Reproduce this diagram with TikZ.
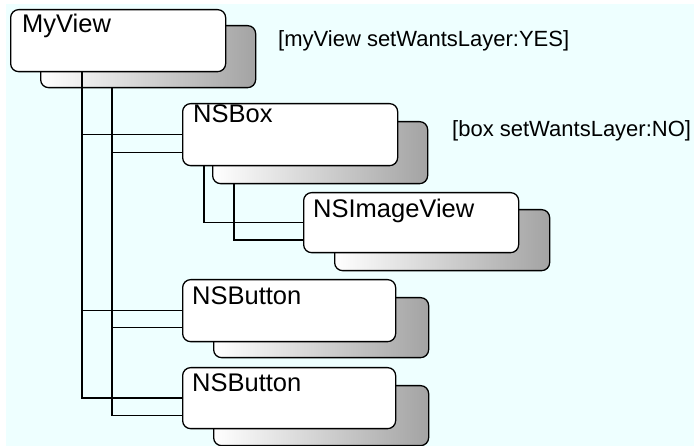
\documentclass[tikz,border=0pt]{standalone}
\usepackage{fontspec}
\setmainfont{Liberation Sans}
\definecolor{paper}{RGB}{238,255,255}
\tikzset{
  front/.style={draw=black, line width=1.3pt, fill=white, rounded corners=8pt,
    anchor=north west, inner sep=0pt, minimum width=215pt, minimum height=62pt},
  layer/.style={draw=black, line width=1.3pt, rounded corners=8pt,
    left color=white, right color=black!36,
    anchor=north west, inner sep=0pt, minimum width=215pt, minimum height=62pt},
  title/.style={anchor=base west, inner sep=0pt, font=\fontsize{25.5}{28}\selectfont},
  note/.style={anchor=base west, inner sep=0pt, font=\fontsize{22}{25}\selectfont},
  link/.style={draw=black, line width=1.3pt}
}
\begin{document}
\begin{tikzpicture}[x=1pt, y=-1pt]
  \useasboundingbox (0,0) rectangle (694,446);
  \fill[paper] (6,4) rectangle (694,446);

  % layer (backing) boxes
  \node[layer] (myview-l) at (40,25) {};
  \node[layer] (nsbox-l) at (212,121) {};
  \node[layer, minimum height=61pt] (image-l) at (334,209) {};
  \node[layer, minimum height=60pt] (btn1-l) at (213,297) {};
  \node[layer, minimum height=60pt] (btn2-l) at (213,385) {};

  % view boxes
  \node[front] (myview) at (10,9) {};
  \node[front] (nsbox) at (182,103) {};
  \node[front, minimum height=60pt] (image) at (303,192) {};
  \node[front, minimum width=213pt] (btn1) at (182,279) {};
  \node[front, minimum width=213pt, minimum height=61pt] (btn2) at (182,367) {};

  % titles
  \node[title] (myview-t) at (22,33) {MyView};
  \node[title] (nsbox-t) at (193,123) {NSBox};
  \node[title] (image-t) at (313,218) {NSImageView};
  \node[title] (btn1-t) at (192,305) {NSButton};
  \node[title] (btn2-t) at (192,392) {NSButton};

  % notes
  \node[note] (note-yes) at (278,47) {[myView setWantsLayer:YES]};
  \node[note] (note-no) at (452,137) {[box setWantsLayer:NO]};

  % view hierarchy links
  \draw[link] ([xshift=72pt]myview.south west) |- (nsbox.west);
  \draw[link] ([xshift=72pt]myview-l.south west) |- (nsbox.west |- nsbox-l.west);
  \draw[link] ([xshift=72pt]myview.south west) |- (btn1.west);
  \draw[link] ([xshift=72pt]myview-l.south west) |- (btn1.west |- btn1-l.west);
  \draw[link] ([xshift=72pt]myview.south west) |- (btn2.west);
  \draw[link] ([xshift=72pt]myview-l.south west) |- (btn2.west |- btn2-l.west);
  \draw[link] ([xshift=22pt]nsbox.south west) |- (image.west);
  \draw[link] ([xshift=22pt]nsbox-l.south west) |- (image.west |- image-l.west);
\end{tikzpicture}
\end{document}
